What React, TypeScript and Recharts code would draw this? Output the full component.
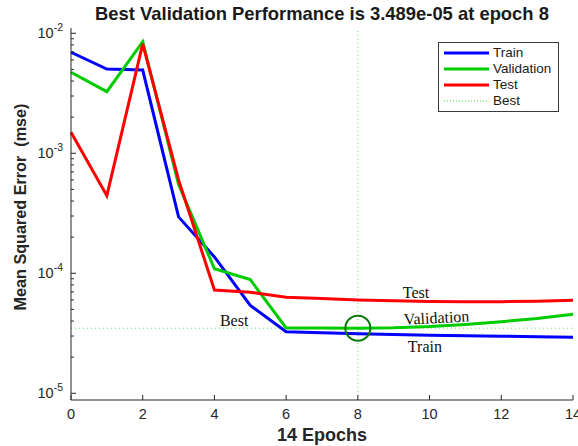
import {
  Legend,
  Line,
  LineChart,
  ReferenceDot,
  ReferenceLine,
  XAxis,
  YAxis,
} from "recharts";

// Training record, one value per epoch (mse)
const epochs = [0, 1, 2, 3, 4, 5, 6, 7, 8, 9, 10, 11, 12, 13, 14];
const trainPerf = [
  6.95e-3, 5.04e-3, 4.94e-3, 2.95e-4, 1.37e-4, 5.4e-5, 3.26e-5, 3.19e-5,
  3.13e-5, 3.09e-5, 3.05e-5, 3.02e-5, 2.99e-5, 2.96e-5, 2.93e-5,
];
const valPerf = [
  4.73e-3, 3.26e-3, 8.5e-3, 5.5e-4, 1.09e-4, 8.85e-5, 3.5e-5, 3.495e-5,
  3.489e-5, 3.51e-5, 3.6e-5, 3.75e-5, 3.95e-5, 4.2e-5, 4.55e-5,
];
const testPerf = [
  1.5e-3, 4.43e-4, 8.15e-3, 6.0e-4, 7.26e-5, 6.95e-5, 6.3e-5, 6.15e-5,
  6.0e-5, 5.9e-5, 5.82e-5, 5.78e-5, 5.8e-5, 5.85e-5, 5.95e-5,
];

const bestEpoch = 8;
const bestPerf = 3.489e-5;

const xTicks = [0, 2, 4, 6, 8, 10, 12, 14];
const yMajorTicks = [1e-5, 1e-4, 1e-3, 1e-2];
const yMajorLabels = ["-5", "-4", "-3", "-2"];
const yMinorSteps = [2, 3, 4, 5, 6, 7, 8, 9];

const titleText = `Best Validation Performance is ${bestPerf.toExponential(3).replace("e-", "e-0")} at epoch ${bestEpoch}`;
const xLabel = `${epochs.length - 1} Epochs`;
const yLabel = "Mean Squared Error  (mse)";

const FONT = '"Liberation Sans", Arial, sans-serif';
const SERIF = '"Liberation Serif", "Times New Roman", serif';
const AXIS = "#262626";
const BLUE = "#0000ff";
const GREEN = "#00cc00";
const RED = "#ff0000";

const data = epochs.map((epoch, i) => ({
  epoch,
  train: trainPerf[i],
  validation: valPerf[i],
  test: testPerf[i],
}));

const yMinorTicks = yMajorTicks
  .slice(0, -1)
  .flatMap((d) => yMinorSteps.map((s) => s * d));
const yTicks = [...yMajorTicks, ...yMinorTicks].sort((a, b) => a - b);

const legendItems = [
  { name: "Train", color: BLUE, dashed: false },
  { name: "Validation", color: GREEN, dashed: false },
  { name: "Test", color: RED, dashed: false },
  { name: "Best", color: GREEN, dashed: true },
];

// in-plot curve labels, anchored in data space
const curveNotes = [
  { text: "Best", x: 4.55, y: bestPerf, dy: -2, angle: 0 },
  { text: "Test", x: 9.62, y: 5.8e-5, dy: -4, angle: 0 },
  { text: "Validation", x: 10.2, y: bestPerf, dy: -5, angle: -3 },
  { text: "Train", x: 9.87, y: 3.05e-5, dy: 17, angle: 0 },
];

const LogTick = (props: any) => {
  const { x, y, payload } = props;
  const idx = yMajorTicks.indexOf(payload.value);
  const major = idx >= 0;
  return (
    <g>
      <line x1={x} y1={y} x2={x + (major ? 5 : 3)} y2={y} stroke={AXIS} />
      {major && (
        <text x={x - 8} y={y + 5} textAnchor="end" fontFamily={FONT} fontSize={14.5} fill={AXIS}>
          <tspan>10</tspan>
          <tspan dy={-7} fontSize={10.5}>
            {yMajorLabels[idx]}
          </tspan>
        </text>
      )}
    </g>
  );
};

const EpochTick = (props: any) => {
  const { x, y, payload } = props;
  return (
    <g>
      <line x1={x} y1={y} x2={x} y2={y - 5} stroke={AXIS} />
      <text x={x} y={y + 19} textAnchor="middle" fontFamily={FONT} fontSize={14.5} fill={AXIS}>
        {payload.value}
      </text>
    </g>
  );
};

const PerfLegend = () => (
  <div
    style={{
      width: 121,
      height: 70,
      boxSizing: "border-box",
      border: "1px solid #3a3a3a",
      background: "#fff",
      paddingTop: 2,
      fontFamily: FONT,
      fontSize: 13.5,
      color: "#1a1a1a",
    }}
  >
    {legendItems.map((item) => (
      <div key={item.name} style={{ display: "flex", alignItems: "center", height: 16 }}>
        <svg width={54} height={6} style={{ flex: "none" }}>
          <line
            x1={5}
            y1={3}
            x2={50}
            y2={3}
            stroke={item.color}
            strokeWidth={item.dashed ? 1 : 3}
            strokeDasharray={item.dashed ? "1 2" : undefined}
            strokeOpacity={item.dashed ? 0.7 : 1}
          />
        </svg>
        <span style={{ lineHeight: "16px" }}>{item.name}</span>
      </div>
    ))}
  </div>
);

export default function App() {
  return (
    <div style={{ position: "relative", width: 578, height: 446, background: "#fff" }}>
      <style>{"body{margin:0}"}</style>
      <div
        style={{
          position: "absolute",
          left: 0,
          top: 3,
          width: 644,
          textAlign: "center",
          fontFamily: FONT,
          fontWeight: "bold",
          fontSize: 18.4,
          color: "#1a1a1a",
          whiteSpace: "nowrap",
        }}
      >
        {titleText}
      </div>
      <LineChart
        width={578}
        height={446}
        data={data}
        margin={{ top: 28, right: 5, bottom: 0, left: 0 }}
      >
        <XAxis
          dataKey="epoch"
          type="number"
          domain={[0, 14]}
          ticks={xTicks}
          interval={0}
          height={46}
          tickSize={0}
          tickMargin={0}
          tickLine={false}
          tick={<EpochTick />}
          axisLine={{ stroke: AXIS }}
          label={{
            content: ({ viewBox }: any) => (
              <text
                x={viewBox.x + viewBox.width / 2}
                y={viewBox.y + 41}
                textAnchor="middle"
                fontFamily={FONT}
                fontWeight="bold"
                fontSize={18}
                fill={AXIS}
              >
                {xLabel}
              </text>
            ),
          }}
        />
        <YAxis
          scale="log"
          type="number"
          domain={[Math.pow(10, -5.056), Math.pow(10, -1.956)]}
          allowDataOverflow
          ticks={yTicks}
          interval={0}
          width={71}
          tickSize={0}
          tickMargin={0}
          tickLine={false}
          tick={<LogTick />}
          axisLine={{ stroke: AXIS }}
          label={{
            content: ({ viewBox }: any) => {
              const cx = 26;
              const cy = viewBox.y + viewBox.height / 2 - 7;
              return (
                <text
                  x={cx}
                  y={cy}
                  transform={`rotate(-90, ${cx}, ${cy})`}
                  textAnchor="middle"
                  fontFamily={FONT}
                  fontWeight="bold"
                  fontSize={16.2}
                  fill={AXIS}
                  style={{ whiteSpace: "pre" }}
                >
                  {yLabel}
                </text>
              );
            },
          }}
        />
        <ReferenceLine
          y={bestPerf}
          stroke={GREEN}
          strokeOpacity={0.6}
          strokeDasharray="1 3"
        />
        <ReferenceLine
          x={bestEpoch}
          stroke={GREEN}
          strokeOpacity={0.6}
          strokeDasharray="1 3"
        />
        <Line
          dataKey="train"
          stroke={BLUE}
          strokeWidth={3}
          dot={false}
          isAnimationActive={false}
        />
        <Line
          dataKey="validation"
          stroke={GREEN}
          strokeWidth={3}
          dot={false}
          isAnimationActive={false}
        />
        <Line
          dataKey="test"
          stroke={RED}
          strokeWidth={3}
          dot={false}
          isAnimationActive={false}
        />
        <ReferenceDot
          x={bestEpoch}
          y={bestPerf}
          r={12.5}
          fill="none"
          stroke="#0a7a0a"
          strokeWidth={2}
        />
        {curveNotes.map((n) => (
          <ReferenceDot
            key={n.text}
            x={n.x}
            y={n.y}
            r={0}
            shape={(p: any) => (
              <text
                x={p.cx}
                y={p.cy + n.dy}
                textAnchor="middle"
                fontFamily={SERIF}
                fontSize={16}
                fill="#111"
                transform={n.angle ? `rotate(${n.angle}, ${p.cx}, ${p.cy + n.dy})` : undefined}
              >
                {n.text}
              </text>
            )}
          />
        ))}
        <Legend
          layout="vertical"
          align="center"
          verticalAlign="middle"
          content={() => <PerfLegend />}
          wrapperStyle={{ left: 438, top: 42, width: 121, height: 70 }}
        />
      </LineChart>
    </div>
  );
}
